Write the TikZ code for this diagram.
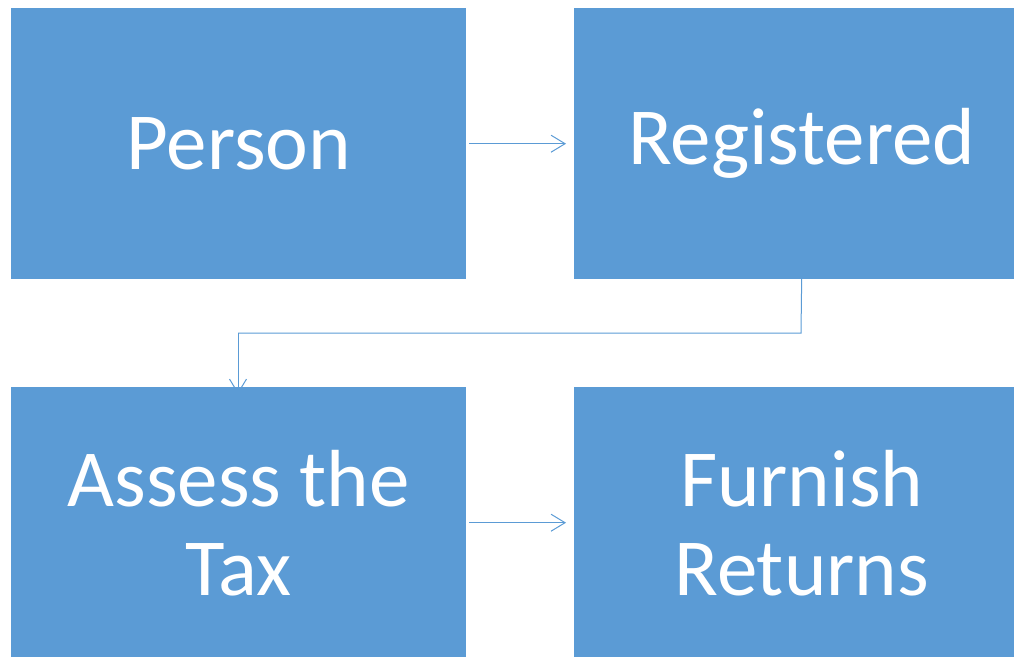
\documentclass[tikz,border=0pt]{standalone}
\usepackage{fontspec}
\setmainfont{Carlito}
\usetikzlibrary{arrows.meta}
\definecolor{boxblue}{HTML}{5B9BD5}
\begin{document}
\begin{tikzpicture}[x=1pt,y=-1pt,
  box/.style={fill=boxblue,draw=none,minimum width=455pt,minimum height=271pt,inner sep=0pt,
    text=white,align=center,font=\fontsize{81}{89}\selectfont},
  conn/.style={draw=boxblue,line width=1pt,-{Straight Barb[length=14pt,width=17pt]}}]
\useasboundingbox (0,0) rectangle (1014,656);
\clip (0,0) rectangle (1014,656);
\node[box,anchor=north west] (person) at (11,8) {Person};
\node[box,anchor=north west] (reg) at (574,8) {Registered};
\node[box,anchor=north west] (assess) at (11,387) {Assess the\\Tax};
\node[box,anchor=north west] (furn) at (574,387) {Furnish\\Returns};
\coordinate (e1) at (801,333);
\coordinate (e2) at (238,333);
\draw[conn] ([xshift=3pt]person.east) -- ([xshift=-8pt]reg.west);
\draw[draw=boxblue,line width=1pt] ([yshift=3pt]reg.south) -- (e1) -- (e2);
\draw[conn] (e2) -- ([yshift=-7pt]assess.north -| e2);
\draw[conn] ([xshift=3pt]assess.east) -- ([xshift=-8pt]furn.west);
\end{tikzpicture}
\end{document}
